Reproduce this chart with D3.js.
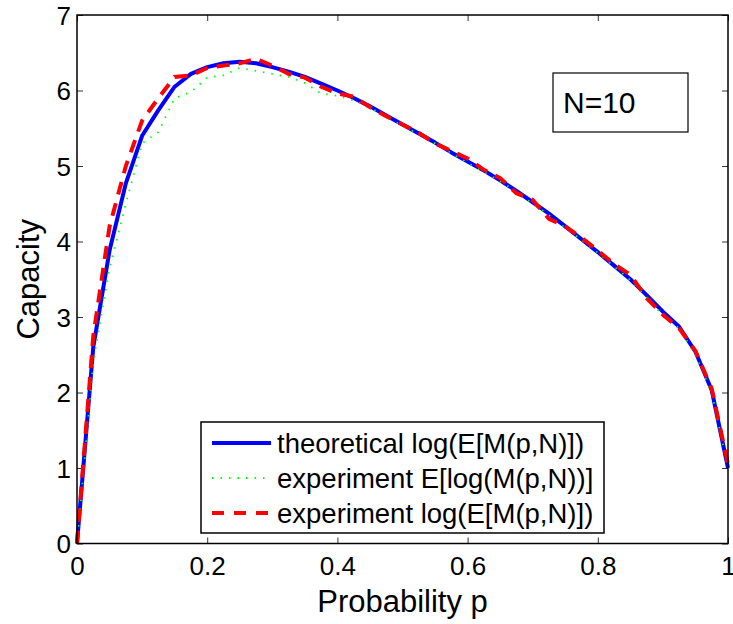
<!DOCTYPE html>
<html>
<head>
<meta charset="utf-8">
<script src="https://cdn.jsdelivr.net/npm/d3@7"></script>
<style>
  body { margin: 0; background: #fff; }
  text { font-family: "Liberation Sans", Arial, sans-serif; fill: #000; }
</style>
</head>
<body>
<div id="chart"></div>
<script>
const probability = [0, 0.025, 0.05, 0.075, 0.1, 0.125, 0.15, 0.175, 0.2, 0.225, 0.25, 0.275, 0.3, 0.325, 0.35, 0.375, 0.4, 0.425, 0.45, 0.475, 0.5, 0.525, 0.55, 0.575, 0.6, 0.625, 0.65, 0.675, 0.7, 0.725, 0.75, 0.775, 0.8, 0.825, 0.85, 0.875, 0.9, 0.925, 0.95, 0.975, 1];
const theoretical = [0, 2.6, 3.88, 4.77, 5.4, 5.74, 6.05, 6.22, 6.31, 6.36, 6.38, 6.36, 6.31, 6.25, 6.18, 6.09, 6.0, 5.9, 5.79, 5.67, 5.55, 5.43, 5.31, 5.18, 5.06, 4.94, 4.81, 4.67, 4.52, 4.37, 4.2, 4.03, 3.86, 3.68, 3.5, 3.29, 3.07, 2.87, 2.54, 2.03, 1.0];
const expLogMean = [0, 2.4, 3.65, 4.5, 5.3, 5.45, 5.9, 5.98, 6.17, 6.2, 6.3, 6.26, 6.22, 6.18, 6.1, 5.96, 5.93, 5.87, 5.77, 5.66, 5.53, 5.42, 5.3, 5.17, 5.04, 4.92, 4.8, 4.66, 4.5, 4.35, 4.18, 4.02, 3.85, 3.67, 3.49, 3.26, 3.02, 2.85, 2.5, 2.0, 1.0];
const expMeanLog = [0, 2.75, 4.2, 5.0, 5.6, 5.9, 6.18, 6.2, 6.3, 6.33, 6.36, 6.42, 6.33, 6.22, 6.17, 6.05, 5.96, 5.92, 5.78, 5.66, 5.55, 5.44, 5.3, 5.2, 5.1, 4.95, 4.84, 4.64, 4.55, 4.3, 4.2, 4.05, 3.88, 3.7, 3.56, 3.25, 3.03, 2.85, 2.55, 2.05, 1.05];
const xTicks = [0, 0.2, 0.4, 0.6, 0.8, 1];
const yTicks = [0, 1, 2, 3, 4, 5, 6, 7];
const legendLabels = ["theoretical log(E[M(p,N)])", "experiment E[log(M(p,N))]", "experiment log(E[M(p,N)])"];

const totalWidth = 733, totalHeight = 624;
const margin = { top: 15, right: 5, bottom: 80.5, left: 77 };
const width = totalWidth - margin.left - margin.right;
const height = totalHeight - margin.top - margin.bottom;

const svg = d3.select("#chart")
  .append("svg")
  .attr("width", totalWidth)
  .attr("height", totalHeight);

const g = svg.append("g")
  .attr("transform", `translate(${margin.left},${margin.top})`);

const x = d3.scaleLinear().domain([0, 1]).range([0, width]);
const y = d3.scaleLinear().domain([0, 7]).range([height, 0]);

// ticks pointing inward on all four sides, like matlab
const tickLen = 6;
g.append("g")
  .attr("transform", `translate(0,${height})`)
  .call(d3.axisBottom(x).tickValues(xTicks).tickSize(-tickLen).tickPadding(12)
    .tickFormat((d) => String(d)))
  .call((a) => a.select(".domain").remove())
  .selectAll("text").style("font-size", "26px").attr("dy", "0.75em");

g.append("g")
  .call(d3.axisLeft(y).tickValues(yTicks).tickSize(-tickLen).tickPadding(6)
    .tickFormat((d) => String(d)))
  .call((a) => a.select(".domain").remove())
  .selectAll("text").style("font-size", "26px").attr("dy", "0.36em");

g.append("g")
  .call(d3.axisTop(x).tickValues(xTicks).tickSize(-tickLen).tickFormat(""))
  .call((a) => a.select(".domain").remove());

g.append("g")
  .attr("transform", `translate(${width},0)`)
  .call(d3.axisRight(y).tickValues(yTicks).tickSize(-tickLen).tickFormat(""))
  .call((a) => a.select(".domain").remove());

g.selectAll(".tick line").attr("stroke", "#333").attr("stroke-width", 1);

const line = (vals) => d3.line()
  .x((d, i) => x(probability[i]))
  .y((d) => y(d))(vals);

g.append("path")
  .attr("d", line(theoretical))
  .attr("fill", "none")
  .attr("stroke", "#0000ff")
  .attr("stroke-width", 4)
  .attr("stroke-linejoin", "round");

g.append("path")
  .attr("d", line(expLogMean))
  .attr("fill", "none")
  .attr("stroke", "#00ff00")
  .attr("stroke-width", 1.8)
  .attr("stroke-dasharray", "1.5,7");

g.append("path")
  .attr("d", line(expMeanLog))
  .attr("fill", "none")
  .attr("stroke", "#ff0000")
  .attr("stroke-width", 4)
  .attr("stroke-dasharray", "13,9");

// axes box
g.append("rect")
  .attr("width", width)
  .attr("height", height)
  .attr("fill", "none")
  .attr("stroke", "#000")
  .attr("stroke-width", 1.5);

// N=10 annotation
const note = svg.append("g").attr("transform", "translate(553,73)");
note.append("rect")
  .attr("width", 135).attr("height", 59)
  .attr("fill", "#fff").attr("stroke", "#000").attr("stroke-width", 1.2);
note.append("text")
  .attr("x", 10).attr("y", 40)
  .style("font-size", "30px")
  .text("N=10");

// legend
const legend = svg.append("g").attr("transform", "translate(201,422)");
legend.append("rect")
  .attr("width", 403).attr("height", 111)
  .attr("fill", "#fff").attr("stroke", "#000").attr("stroke-width", 1.5);

const styles = [
  { color: "#0000ff", width: 4, dash: null },
  { color: "#00ff00", width: 1.8, dash: "1.5,7" },
  { color: "#ff0000", width: 4, dash: "12,10" }
];

legendLabels.forEach((label, i) => {
  const cy = 21 + i * 35;
  legend.append("line")
    .attr("x1", 11).attr("x2", 70)
    .attr("y1", cy).attr("y2", cy)
    .attr("stroke", styles[i].color)
    .attr("stroke-width", styles[i].width)
    .attr("stroke-dasharray", styles[i].dash);
  legend.append("text")
    .attr("x", 76).attr("y", cy)
    .attr("dy", "0.35em")
    .style("font-size", "27.5px")
    .text(label);
});

// axis titles
svg.append("text")
  .attr("x", margin.left + width / 2)
  .attr("y", 612)
  .attr("text-anchor", "middle")
  .style("font-size", "31px")
  .text("Probability p");

svg.append("text")
  .attr("transform", `translate(39,${margin.top + height / 2}) rotate(-90)`)
  .attr("text-anchor", "middle")
  .style("font-size", "31px")
  .text("Capacity");
</script>
</body>
</html>
